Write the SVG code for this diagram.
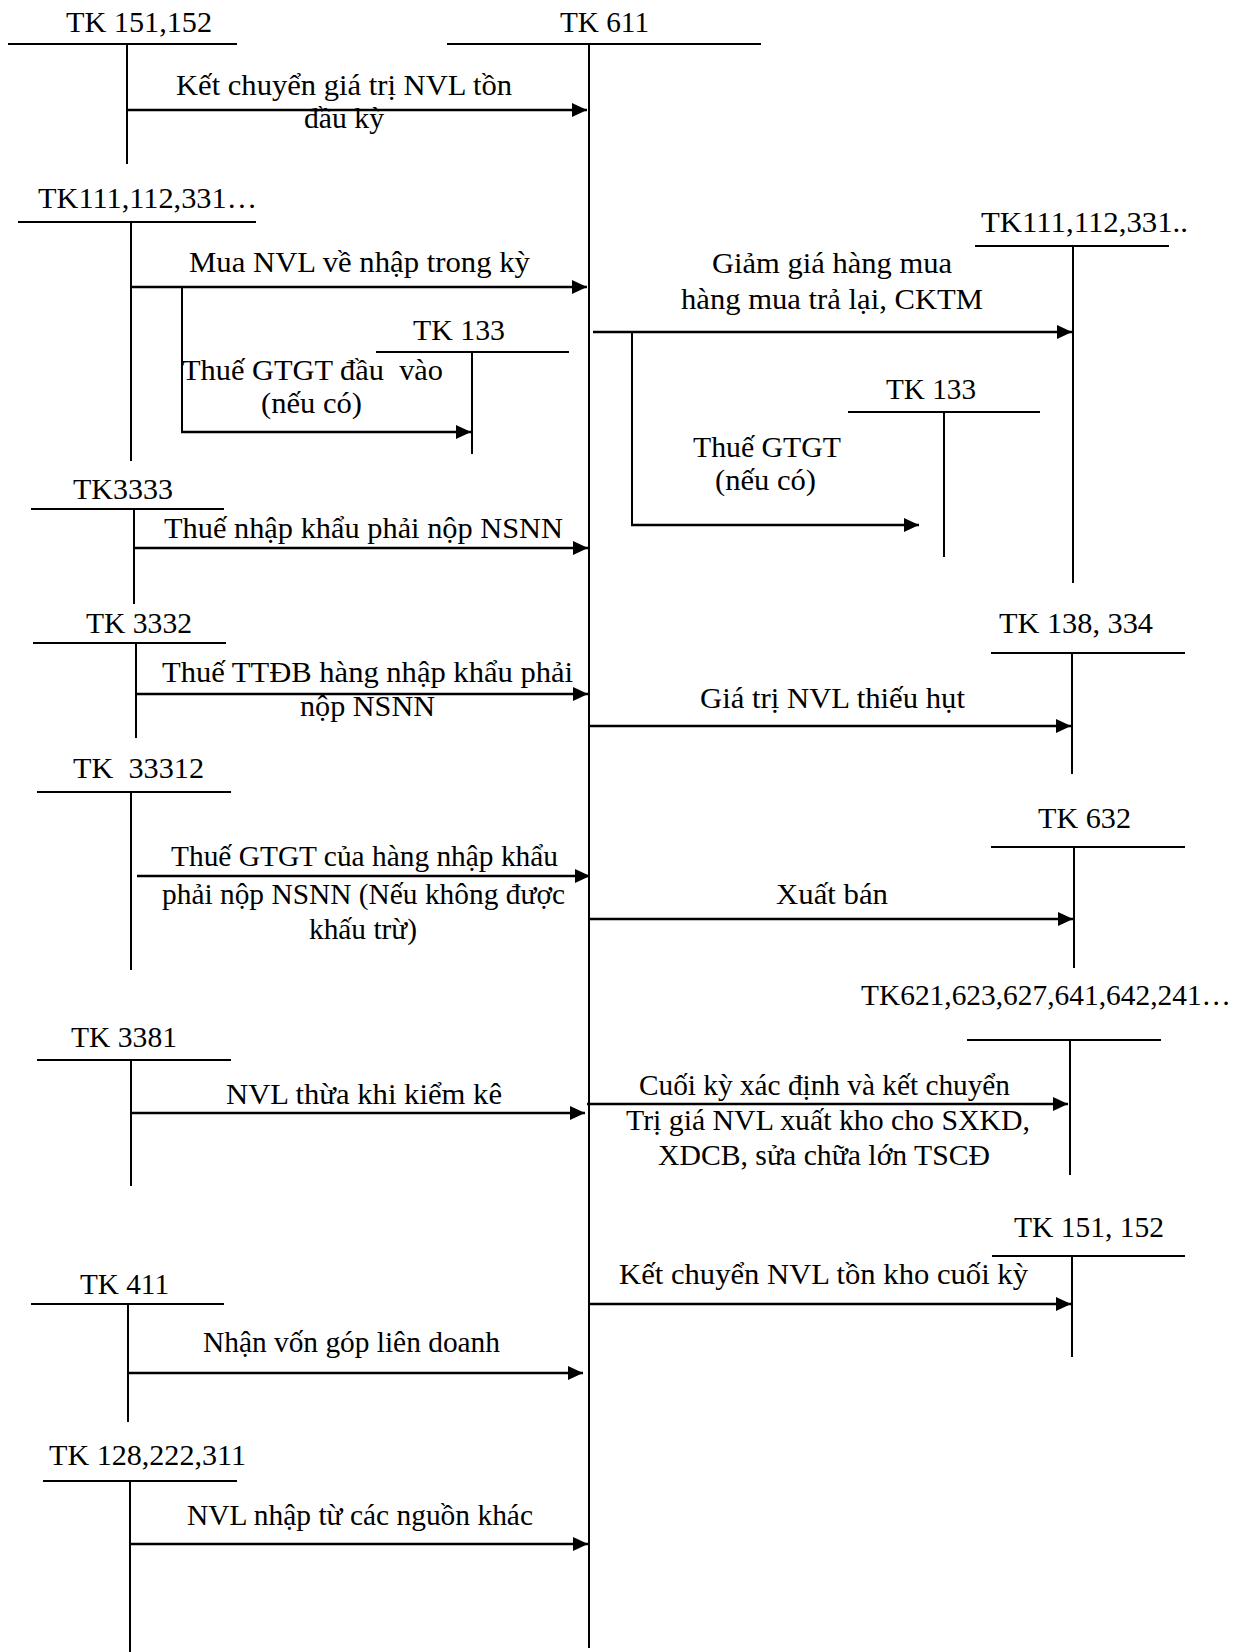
<svg xmlns="http://www.w3.org/2000/svg" width="1255" height="1652" viewBox="0 0 1255 1652">
<style>
text{font-family:"Liberation Serif","Times New Roman",serif;font-size:29.5px;fill:#000}
.ln{stroke:#000;stroke-width:2;fill:none}
.ar{stroke:#000;stroke-width:2.5;fill:none;marker-end:url(#ah)}
</style>
<defs>
<marker id="ah" markerUnits="userSpaceOnUse" markerWidth="16" markerHeight="14" refX="15" refY="7" orient="auto"><path d="M0,0 L15,7 L0,14 z" fill="#000"/></marker>
</defs>
<rect width="1255" height="1652" fill="#fff"/>

<g id="tk611">
<line class="ln" x1="447" y1="44" x2="761" y2="44"/>
<line class="ln" x1="589" y1="44" x2="589" y2="1648"/>
<text x="560" y="32" textLength="89" lengthAdjust="spacingAndGlyphs">TK 611</text>
</g>

<g id="tk151_152_left">
<line class="ln" x1="8" y1="44" x2="237" y2="44"/>
<line class="ln" x1="127" y1="44" x2="127" y2="164"/>
<text x="66" y="32" textLength="146" lengthAdjust="spacingAndGlyphs">TK 151,152</text>
</g>

<g id="tk111_left">
<line class="ln" x1="18" y1="222" x2="256" y2="222"/>
<line class="ln" x1="131" y1="222" x2="131" y2="461"/>
<text x="38" y="208" textLength="219" lengthAdjust="spacingAndGlyphs">TK111,112,331…</text>
</g>

<g id="tk133_left">
<line class="ln" x1="376" y1="352" x2="569" y2="352"/>
<line class="ln" x1="472" y1="352" x2="472" y2="454"/>
<text x="413" y="340" textLength="92" lengthAdjust="spacingAndGlyphs">TK 133</text>
</g>

<g id="tk111_right">
<line class="ln" x1="975" y1="246" x2="1169" y2="246"/>
<line class="ln" x1="1073" y1="246" x2="1073" y2="583"/>
<text x="981" y="232" textLength="207" lengthAdjust="spacingAndGlyphs">TK111,112,331..</text>
</g>

<g id="tk133_right">
<line class="ln" x1="848" y1="412" x2="1040" y2="412"/>
<line class="ln" x1="944" y1="412" x2="944" y2="557"/>
<text x="886" y="399" textLength="90" lengthAdjust="spacingAndGlyphs">TK 133</text>
</g>

<g id="tk3333">
<line class="ln" x1="31" y1="509" x2="224" y2="509"/>
<line class="ln" x1="134" y1="509" x2="134" y2="604"/>
<text x="73" y="499" textLength="100" lengthAdjust="spacingAndGlyphs">TK3333</text>
</g>

<g id="tk3332">
<line class="ln" x1="33" y1="643" x2="226" y2="643"/>
<line class="ln" x1="136" y1="643" x2="136" y2="738"/>
<text x="86" y="633" textLength="106" lengthAdjust="spacingAndGlyphs">TK 3332</text>
</g>

<g id="tk138_334">
<line class="ln" x1="991" y1="653" x2="1185" y2="653"/>
<line class="ln" x1="1072" y1="653" x2="1072" y2="774"/>
<text x="999" y="633" textLength="154" lengthAdjust="spacingAndGlyphs">TK 138, 334</text>
</g>

<g id="tk33312">
<line class="ln" x1="37" y1="792" x2="231" y2="792"/>
<line class="ln" x1="131" y1="792" x2="131" y2="970"/>
<text x="73" y="778" textLength="131" lengthAdjust="spacingAndGlyphs" xml:space="preserve">TK  33312</text>
</g>

<g id="tk632">
<line class="ln" x1="991" y1="847" x2="1185" y2="847"/>
<line class="ln" x1="1074" y1="847" x2="1074" y2="968"/>
<text x="1038" y="828" textLength="93" lengthAdjust="spacingAndGlyphs">TK 632</text>
</g>

<g id="tk621_group">
<line class="ln" x1="967" y1="1040" x2="1161" y2="1040"/>
<line class="ln" x1="1070" y1="1040" x2="1070" y2="1175"/>
<text x="861" y="1005" textLength="370" lengthAdjust="spacingAndGlyphs">TK621,623,627,641,642,241…</text>
</g>

<g id="tk3381">
<line class="ln" x1="37" y1="1060" x2="231" y2="1060"/>
<line class="ln" x1="131" y1="1060" x2="131" y2="1186"/>
<text x="71" y="1047" textLength="106" lengthAdjust="spacingAndGlyphs">TK 3381</text>
</g>

<g id="tk151_152_right">
<line class="ln" x1="992" y1="1256" x2="1185" y2="1256"/>
<line class="ln" x1="1072" y1="1256" x2="1072" y2="1357"/>
<text x="1014" y="1237" textLength="150" lengthAdjust="spacingAndGlyphs">TK 151, 152</text>
</g>

<g id="tk411">
<line class="ln" x1="31" y1="1304" x2="224" y2="1304"/>
<line class="ln" x1="128" y1="1304" x2="128" y2="1422"/>
<text x="80" y="1294" textLength="89" lengthAdjust="spacingAndGlyphs">TK 411</text>
</g>

<g id="tk128_222_311">
<line class="ln" x1="43" y1="1481" x2="237" y2="1481"/>
<line class="ln" x1="130" y1="1481" x2="130" y2="1652"/>
<text x="49" y="1465" textLength="197" lengthAdjust="spacingAndGlyphs">TK 128,222,311</text>
</g>

<g id="connectors">
<line class="ar" x1="127" y1="110" x2="587" y2="110"/>
<line class="ar" x1="131" y1="287" x2="587" y2="287"/>
<polyline class="ln" points="182,287 182,432"/>
<line class="ar" x1="181" y1="432" x2="471" y2="432"/>
<line class="ar" x1="593" y1="332" x2="1072" y2="332"/>
<polyline class="ln" points="632,332 632,525"/>
<line class="ar" x1="631" y1="525" x2="919" y2="525"/>
<line class="ar" x1="134" y1="548" x2="588" y2="548"/>
<line class="ar" x1="136" y1="694" x2="588" y2="694"/>
<line class="ar" x1="589" y1="726" x2="1071" y2="726"/>
<line class="ar" x1="137" y1="876" x2="590" y2="876"/>
<line class="ar" x1="589" y1="919" x2="1073" y2="919"/>
<line class="ar" x1="131" y1="1113" x2="585" y2="1113"/>
<line class="ar" x1="587" y1="1104" x2="1068" y2="1104"/>
<line class="ar" x1="589" y1="1304" x2="1071" y2="1304"/>
<line class="ar" x1="128" y1="1373" x2="583" y2="1373"/>
<line class="ar" x1="130" y1="1544" x2="588" y2="1544"/>
</g>

<g id="labels">
<text x="176" y="95" textLength="336" lengthAdjust="spacingAndGlyphs">Kết chuyển giá trị NVL tồn</text>
<text x="304" y="128" textLength="80" lengthAdjust="spacingAndGlyphs">đầu kỳ</text>
<text x="189" y="272" textLength="341" lengthAdjust="spacingAndGlyphs">Mua NVL về nhập trong kỳ</text>
<text x="182" y="380" textLength="261" lengthAdjust="spacingAndGlyphs" xml:space="preserve">Thuế GTGT đầu  vào</text>
<text x="261" y="413" textLength="101" lengthAdjust="spacingAndGlyphs">(nếu có)</text>
<text x="712" y="273" textLength="240" lengthAdjust="spacingAndGlyphs">Giảm giá hàng mua</text>
<text x="681" y="309" textLength="302" lengthAdjust="spacingAndGlyphs">hàng mua trả lại, CKTM</text>
<text x="693" y="457" textLength="148" lengthAdjust="spacingAndGlyphs">Thuế GTGT</text>
<text x="715" y="490" textLength="101" lengthAdjust="spacingAndGlyphs">(nếu có)</text>
<text x="164" y="538" textLength="399" lengthAdjust="spacingAndGlyphs">Thuế nhập khẩu phải nộp NSNN</text>
<text x="162" y="682" textLength="411" lengthAdjust="spacingAndGlyphs">Thuế TTĐB hàng nhập khẩu phải</text>
<text x="300" y="716" textLength="135" lengthAdjust="spacingAndGlyphs">nộp NSNN</text>
<text x="700" y="708" textLength="265" lengthAdjust="spacingAndGlyphs">Giá trị NVL thiếu hụt</text>
<text x="776" y="904" textLength="112" lengthAdjust="spacingAndGlyphs">Xuất bán</text>
<text x="171" y="866" textLength="387" lengthAdjust="spacingAndGlyphs">Thuế GTGT của hàng nhập khẩu</text>
<text x="162" y="904" textLength="403" lengthAdjust="spacingAndGlyphs">phải nộp NSNN (Nếu không được</text>
<text x="309" y="939" textLength="108" lengthAdjust="spacingAndGlyphs">khấu trừ)</text>
<text x="639" y="1095" textLength="371" lengthAdjust="spacingAndGlyphs">Cuối kỳ xác định và kết chuyển</text>
<text x="626" y="1130" textLength="404" lengthAdjust="spacingAndGlyphs">Trị giá NVL xuất kho cho SXKD,</text>
<text x="658" y="1165" textLength="332" lengthAdjust="spacingAndGlyphs">XDCB, sửa chữa lớn TSCĐ</text>
<text x="226" y="1104" textLength="276" lengthAdjust="spacingAndGlyphs">NVL thừa khi kiểm kê</text>
<text x="619" y="1284" textLength="409" lengthAdjust="spacingAndGlyphs">Kết chuyển NVL tồn kho cuối kỳ</text>
<text x="203" y="1352" textLength="297" lengthAdjust="spacingAndGlyphs">Nhận vốn góp liên doanh</text>
<text x="187" y="1525" textLength="346" lengthAdjust="spacingAndGlyphs">NVL nhập từ các nguồn khác</text>
</g>
</svg>
